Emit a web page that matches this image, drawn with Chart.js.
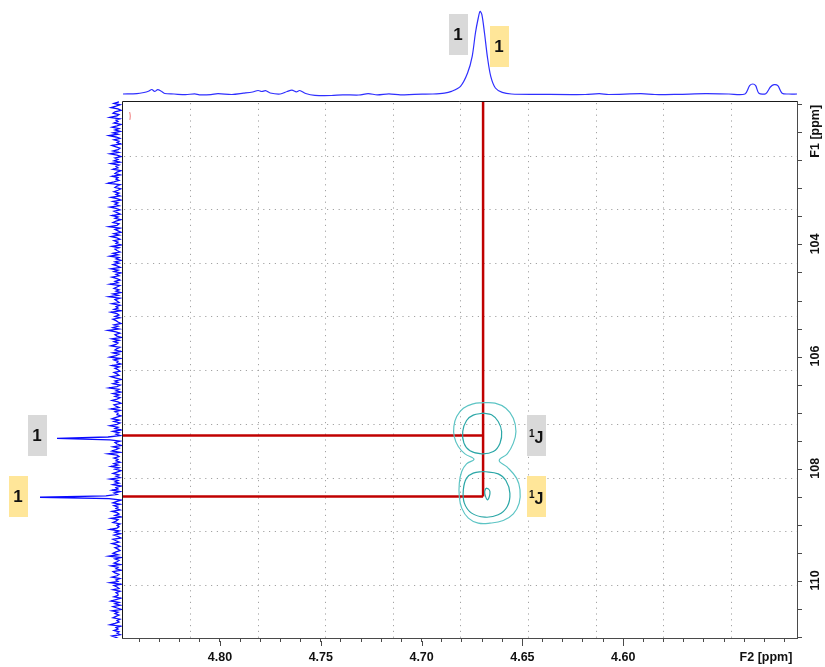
<!DOCTYPE html>
<html>
<head>
<meta charset="utf-8">
<script src="https://cdn.jsdelivr.net/npm/chart.js@4/dist/chart.umd.min.js"></script>
<style>
  html, body { margin: 0; padding: 0; background: #fff; }
  #wrap { position: relative; width: 825px; height: 667px; overflow: hidden; background: #fff; }
  canvas { position: absolute; }
  #top { left: 122px; top: 0; }
  #left { left: 0; top: 101px; }
  #main { left: 0; top: 0; }
</style>
</head>
<body>
<div id="wrap">
  <canvas id="top" width="675" height="101"></canvas>
  <canvas id="left" width="122" height="537"></canvas>
  <canvas id="main" width="825" height="667"></canvas>
</div>
<script>
// ---- spectral window (ppm) ----
const F2_MIN = 4.5138, F2_MAX = 4.8486;
const F1_MIN = 101.433, F1_MAX = 111.01;

// ---- F2 (1H) projection: chemical shift and intensity ----
const topF2 = [4.8481, 4.8412, 4.8377, 4.8355, 4.8338, 4.8324, 4.8309, 4.8293, 4.8274, 4.8228,
  4.8171, 4.8125, 4.8102, 4.8045, 4.8010, 4.7941, 4.7884, 4.7838, 4.7811, 4.7793,
  4.7774, 4.7751, 4.7701, 4.7667, 4.7643, 4.7621, 4.7605, 4.7575, 4.7529, 4.7448,
  4.7391, 4.7311, 4.7265, 4.7219, 4.7162, 4.7105, 4.7036, 4.6944, 4.6887, 4.6852,
  4.6807, 4.6772, 4.6749, 4.6733, 4.6719, 4.6710, 4.6701, 4.6688, 4.6674, 4.6657,
  4.6634, 4.6600, 4.6554, 4.6417, 4.6188, 4.6119, 4.6073, 4.5912, 4.5843, 4.5729,
  4.5591, 4.5476, 4.5396, 4.5373, 4.5357, 4.5343, 4.5327, 4.5293, 4.5270, 4.5252,
  4.5233, 4.5212, 4.5178, 4.5137];
const topIntensity = [0, 0.3, 1.5, 2.8, 4.5, 2.5, 4.3, 3, 0.5, 0,
  -0.7, 0.2, -0.8, -0.6, 0.3, -0.5, 0.8, 2, 3.5, 2.5,
  3.3, 1, 0, 2.5, 3.8, 2.2, 3.5, 0.5, -1.3, -1.5,
  -0.8, -1, 0.3, -0.8, 0.2, -0.8, -0.3, 0, 0.8, 2.6,
  7.7, 21, 37.7, 61, 76, 82.6, 79.3, 61, 37.7, 17.6,
  6, 1.6, 0, -0.3, -0.5, 0.3, -0.5, 0.3, -0.5, -0.3,
  0.3, 0, 0, 8.3, 10, 8.3, 0.8, 0.3, 7, 9.3,
  8.3, 0.8, 0, 0];

// ---- F1 (13C) projection: digitised on a regular ppm grid ----
const leftF1Start = 101.45, leftF1Step = 0.025;
const leftIntensity = [
  3,8,2,6,11,4,1,7,9,3,5,12,2,6,4,8,
  1,5,10,3,7,2,9,4,13,6,2,8,3,5,1,10,
  6,2,4,9,3,12,5,1,7,4,8,2,11,3,6,4,
  9,1,5,7,2,10,4,6,3,8,14,2,5,7,1,4,
  8,3,6,2,11,5,1,9,4,7,3,12,6,2,8,5,
  2,10,4,7,1,6,9,3,5,13,2,7,4,1,8,3,
  11,5,2,8,4,6,1,10,3,7,5,2,9,4,12,3,
  6,1,7,3,9,5,2,11,4,8,1,6,3,10,5,2,
  7,4,12,2,5,8,3,6,1,9,4,13,2,7,5,3,
  10,2,6,4,8,1,11,5,3,7,2,9,6,4,1,8,
  4,9,3,14,6,2,7,5,1,10,3,8,4,6,11,2,
  5,7,1,9,3,6,12,2,8,4,5,1,10,3,7,4,
  2,8,5,3,11,6,1,7,4,9,2,5,13,3,6,1,
  9,3,7,2,5,10,4,1,8,6,3,11,2,7,4,5,
  1,6,10,3,8,2,5,12,4,7,1,9,3,6,2,14,
  65,12,2,7,5,1,9,3,6,10,2,14,5,3,8,4,
  6,2,8,4,11,3,7,1,5,9,3,6,2,12,4,7,
  3,9,1,6,4,10,2,8,5,16,82,13,1,5,9,2,
  8,4,6,2,10,5,3,7,1,11,4,6,9,2,5,3,
  5,12,3,7,2,8,4,1,9,6,3,10,5,2,7,4,
  2,6,9,4,13,1,7,3,5,8,2,11,4,6,1,9,
  7,3,5,10,2,6,4,12,1,8,5,3,9,2,6,4,
  4,8,1,6,11,3,7,2,9,5,1,10,4,7,3,6,
  9,2,5,3,7,12,1,6,4,8,3,5,2,10,6,3];

// ---- HSQC contours [F2, F1] ----
const contourOuter = [[4.6694,106.811],[4.6744,106.834],[4.6793,106.912],[4.6826,107.060],[4.6840,107.238],
  [4.6838,107.417],[4.6818,107.595],[4.6785,107.726],[4.6740,107.821],[4.6777,107.904],[4.6801,108.041],
  [4.6813,108.249],[4.6813,108.486],[4.6801,108.694],[4.6768,108.872],[4.6719,108.962],[4.6661,108.962],
  [4.6595,108.914],[4.6545,108.795],[4.6516,108.605],[4.6512,108.367],[4.6529,108.159],[4.6575,107.963],
  [4.6615,107.844],[4.6575,107.726],[4.6545,107.535],[4.6532,107.327],[4.6545,107.090],[4.6582,106.912],
  [4.6636,106.822],[4.6694,106.811]];
const contourUpper = [[4.6694,107.001],[4.6744,107.036],[4.6777,107.131],[4.6796,107.327],[4.6790,107.535],
  [4.6760,107.672],[4.6702,107.726],[4.6644,107.684],[4.6611,107.535],[4.6603,107.327],[4.6620,107.149],
  [4.6653,107.030],[4.6694,107.001]];
const contourLower = [[4.6694,108.041],[4.6744,108.070],[4.6777,108.159],[4.6793,108.367],[4.6788,108.605],
  [4.6752,108.783],[4.6686,108.855],[4.6620,108.813],[4.6575,108.664],[4.6562,108.427],[4.6582,108.201],
  [4.6620,108.082],[4.6694,108.041]];
const contourCore = [[4.6681,108.338],[4.6687,108.397],[4.6684,108.474],[4.6674,108.546],[4.6664,108.486],
  [4.6661,108.397],[4.6669,108.350],[4.6681,108.338]];
const contourEdge = [[4.8448,101.63],[4.8445,101.70],[4.8447,101.77]];

// ---- correlation (1J) cross peak ----
const crossF2 = 4.6695;
const crossF1 = [107.40, 108.487];

// ---- axes ----
const gridF2 = [4.8149, 4.7813, 4.7479, 4.7143, 4.6810, 4.6471, 4.6135, 4.5801, 4.5467];
const gridF1 = [102.41, 103.36, 104.33, 105.27, 106.23, 107.19, 108.16, 109.11, 110.07];
const f2Labelled = [4.60, 4.65, 4.70, 4.75, 4.80];
const f1Labelled = [104, 106, 108, 110];

const GREY = '#d9d9d9', YELLOW = '#ffe699';
const AXIS_FONT = '"Liberation Sans", Arial, sans-serif';

const pairs = arr => arr.map(p => ({ x: p[0], y: p[1] }));
const bare = { legend: { display: false }, tooltip: { enabled: false } };

// F2 projection above the 2D map
new Chart(document.getElementById('top'), {
  type: 'scatter',
  data: { datasets: [{
    data: topF2.map((v, i) => ({ x: v, y: topIntensity[i] })),
    showLine: true, borderColor: '#2f2fff', borderWidth: 1.2, pointRadius: 0, tension: 0.3
  }] },
  options: {
    animation: false, responsive: false, devicePixelRatio: 1,
    layout: { padding: 0 }, plugins: bare,
    scales: {
      x: { type: 'linear', display: false, reverse: true, min: F2_MIN, max: F2_MAX },
      y: { type: 'linear', display: false, min: -7, max: 94 }
    }
  }
});

// F1 projection to the left of the 2D map
new Chart(document.getElementById('left'), {
  type: 'scatter',
  data: { datasets: [{
    data: leftIntensity.map((v, i) => ({ x: v, y: leftF1Start + i * leftF1Step })),
    showLine: true, borderColor: '#0a0aff', borderWidth: 1.3, pointRadius: 0, tension: 0
  }] },
  options: {
    animation: false, responsive: false, devicePixelRatio: 1,
    layout: { padding: 0 }, plugins: bare,
    scales: {
      x: { type: 'linear', display: false, reverse: true, min: 0, max: 122 },
      y: { type: 'linear', display: false, reverse: true, min: F1_MIN, max: F1_MAX }
    }
  }
});

function drawBox(ctx, cx, cy, bg) {
  const w = 19, h = 41;
  ctx.fillStyle = bg;
  ctx.fillRect(Math.round(cx - w / 2), Math.round(cy - h / 2), w, h);
}
function drawNumber(ctx, cx, cy, bg) {
  drawBox(ctx, cx, cy, bg);
  ctx.fillStyle = '#111';
  ctx.font = 'bold 17px ' + AXIS_FONT;
  ctx.textAlign = 'center';
  ctx.textBaseline = 'middle';
  ctx.fillText('1', cx, cy + 1);
}
function drawCoupling(ctx, cx, cy, bg) {
  drawBox(ctx, cx, cy, bg);
  ctx.fillStyle = '#111';
  ctx.textBaseline = 'alphabetic';
  ctx.textAlign = 'left';
  ctx.font = 'bold 10px ' + AXIS_FONT;
  ctx.fillText('1', cx - 7, cy + 1);
  ctx.font = 'bold 16px ' + AXIS_FONT;
  ctx.fillText('J', cx - 1.5, cy + 7);
}

const frame = {
  id: 'frame',
  beforeDatasetsDraw(chart) {
    const { ctx, chartArea: a, scales: { x, y } } = chart;
    ctx.save();
    ctx.strokeStyle = '#a3a3a3';
    ctx.lineWidth = 1;
    ctx.setLineDash([1.2, 4.6]);
    gridF2.forEach(v => {
      const px = Math.round(x.getPixelForValue(v)) + 0.5;
      ctx.beginPath(); ctx.moveTo(px, a.top + 2); ctx.lineTo(px, a.bottom); ctx.stroke();
    });
    gridF1.forEach(v => {
      const py = Math.round(y.getPixelForValue(v)) + 0.5;
      ctx.beginPath(); ctx.moveTo(a.left + 2, py); ctx.lineTo(a.right, py); ctx.stroke();
    });
    ctx.restore();
  },
  afterDraw(chart) {
    const { ctx, chartArea: a, scales: { x, y } } = chart;
    ctx.save();
    // left and top edges of the map frame
    ctx.strokeStyle = '#1a1a1a';
    ctx.lineWidth = 1;
    ctx.beginPath();
    ctx.moveTo(a.left + 0.5, a.bottom);
    ctx.lineTo(a.left + 0.5, a.top + 0.5);
    ctx.lineTo(a.right, a.top + 0.5);
    ctx.stroke();
    // longer marks at the labelled F2 ticks
    ctx.strokeStyle = '#4a4a4a';
    f2Labelled.forEach(v => {
      const px = Math.round(x.getPixelForValue(v)) + 0.5;
      ctx.beginPath(); ctx.moveTo(px, a.bottom + 3); ctx.lineTo(px, a.bottom + 8); ctx.stroke();
    });
    // F1 tick labels, rotated
    ctx.fillStyle = '#111';
    ctx.font = 'bold 12.5px ' + AXIS_FONT;
    ctx.textAlign = 'center';
    ctx.textBaseline = 'middle';
    f1Labelled.forEach(v => {
      ctx.save();
      ctx.translate(a.right + 19, y.getPixelForValue(v) - 1);
      ctx.rotate(-Math.PI / 2);
      ctx.fillText(String(v), 0, 0);
      ctx.restore();
    });
    ctx.save();
    ctx.translate(a.right + 19, y.getPixelForValue(102) - 1.5);
    ctx.rotate(-Math.PI / 2);
    ctx.fillText('F1 [ppm]', 0, 0);
    ctx.restore();
    ctx.fillText('F2 [ppm]', a.right - 31, a.bottom + 20);

    // peak assignment labels
    const xp = x.getPixelForValue(crossF2);
    drawNumber(ctx, xp - 25, 34, GREY);
    drawNumber(ctx, xp + 16, 46, YELLOW);
    drawNumber(ctx, 37, y.getPixelForValue(crossF1[0]), GREY);
    drawNumber(ctx, 18, y.getPixelForValue(crossF1[1]), YELLOW);
    drawCoupling(ctx, xp + 53, y.getPixelForValue(crossF1[0]), GREY);
    drawCoupling(ctx, xp + 53, y.getPixelForValue(crossF1[1]), YELLOW);
    ctx.restore();
  }
};

const contourStyle = (data, color, width) => ({
  data: pairs(data), showLine: true, borderColor: color, borderWidth: width,
  pointRadius: 0, tension: 0.4, clip: false
});
const redLine = data => ({
  data, showLine: true, borderColor: '#c00000', borderWidth: 2.5, pointRadius: 0, tension: 0
});

new Chart(document.getElementById('main'), {
  type: 'scatter',
  data: { datasets: [
    contourStyle(contourOuter, '#5cc4c4', 1.2),
    contourStyle(contourUpper, '#2ba7a7', 1.2),
    contourStyle(contourLower, '#2ba7a7', 1.2),
    contourStyle(contourCore, '#2ba7a7', 1.2),
    contourStyle(contourEdge, '#f07a7a', 1),
    redLine([{ x: crossF2, y: F1_MIN }, { x: crossF2, y: crossF1[1] }]),
    redLine([{ x: F2_MAX, y: crossF1[0] }, { x: crossF2, y: crossF1[0] }]),
    redLine([{ x: F2_MAX, y: crossF1[1] }, { x: crossF2, y: crossF1[1] }])
  ] },
  options: {
    animation: false, responsive: false, devicePixelRatio: 1,
    layout: { padding: { left: 122, top: 101, right: 0, bottom: 0 } },
    plugins: bare,
    scales: {
      x: {
        type: 'linear', position: 'bottom', reverse: true, min: F2_MIN, max: F2_MAX,
        afterFit(s) { s.height = 29; },
        border: { display: true, color: '#4a4a4a', width: 1 },
        grid: { drawOnChartArea: false, drawTicks: true, tickLength: 4, tickColor: '#4a4a4a' },
        ticks: {
          stepSize: 0.01, includeBounds: false, autoSkip: false, maxRotation: 0, minRotation: 0,
          padding: 8, color: '#111', font: { family: AXIS_FONT, size: 12.5, weight: 'bold' },
          callback: v => f2Labelled.some(t => Math.abs(t - v) < 1e-6) ? v.toFixed(2) : ''
        }
      },
      y: {
        type: 'linear', position: 'right', reverse: true, min: F1_MIN, max: F1_MAX,
        afterFit(s) { s.width = 28; },
        border: { display: true, color: '#4a4a4a', width: 1 },
        grid: { drawOnChartArea: false, drawTicks: true, tickLength: 5, tickColor: '#4a4a4a' },
        ticks: { stepSize: 0.5, includeBounds: false, display: false }
      }
    }
  },
  plugins: [frame]
});
</script>
</body>
</html>
